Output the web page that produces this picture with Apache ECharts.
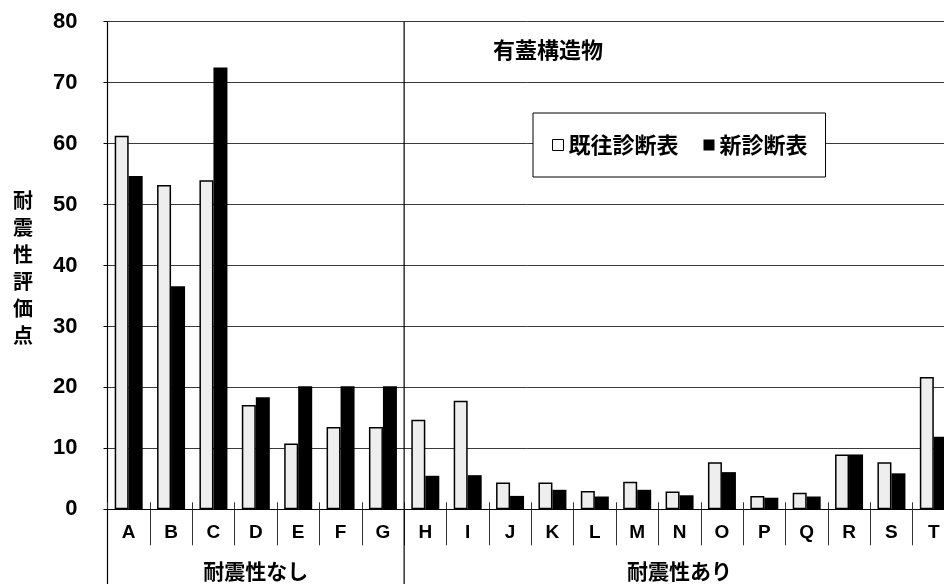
<!DOCTYPE html>
<html>
<head>
<meta charset="utf-8">
<script src="https://cdn.jsdelivr.net/npm/echarts@6/dist/echarts.min.js"></script>
<style>
  html, body { margin: 0; padding: 0; background: #fff; }
  #main { width: 944px; height: 584px; }
</style>
</head>
<body>
<div id="main"></div>
<script>
// ---- data ----
const categories = ['A','B','C','D','E','F','G','H','I','J','K','L','M','N','O','P','Q','R','S','T'];
const oldScores = [61.3, 53.2, 54.0, 17.1, 10.8, 13.5, 13.5, 14.7, 17.8, 4.4, 4.4, 3.0, 4.5, 2.9, 7.7, 2.2, 2.7, 9.0, 7.7, 21.7];
const newScores = [54.7, 36.6, 72.5, 18.4, 20.2, 20.2, 20.2, 5.5, 5.6, 2.2, 3.2, 2.1, 3.2, 2.3, 6.1, 1.9, 2.1, 9.0, 5.9, 11.9];
const seriesNames = ['既往診断表', '新診断表'];
const groupNames = ['耐震性なし', '耐震性あり'];
const groupFirst = ['A', 'H'];
const groupLast = ['G', 'T'];
const yMin = 0, yMax = 80, yInterval = 10;
const yAxisName = '耐震性評価点';
const chartTitle = '有蓋構造物';

const JP = '"Noto Sans CJK JP", "Noto Sans CJK SC", sans-serif';
const LAT = '"Liberation Sans", Arial, sans-serif';

const chart = echarts.init(document.getElementById('main'), null, { renderer: 'canvas' });

const option = {
  animation: false,
  backgroundColor: '#fff',
  grid: { left: 107.5, right: -11, top: 21.7, bottom: 74.7, containLabel: false, outerBoundsMode: 'none' },
  legend: {
    left: 533, top: 113,
    padding: [21, 18, 21, 19],
    itemGap: 25,
    itemWidth: 11, itemHeight: 11,
    borderColor: '#000', borderWidth: 1,
    backgroundColor: '#fff',
    textStyle: { fontFamily: JP, fontWeight: 'bold', fontSize: 22, color: '#000' },
    data: [
      { name: seriesNames[0], icon: 'rect', itemStyle: { color: '#fff', borderColor: '#000', borderWidth: 1 } },
      { name: seriesNames[1], icon: 'rect', itemStyle: { color: '#000', borderWidth: 0 } }
    ]
  },
  xAxis: [
    {
      type: 'category', data: categories, position: 'bottom',
      axisLine: { show: true, lineStyle: { color: '#000', width: 1 } },
      axisTick: { show: true, length: 36, lineStyle: { color: '#333', width: 1 } },
      axisLabel: { fontFamily: LAT, fontWeight: 'bold', fontSize: 19, color: '#000', margin: 14, interval: 0 }
    },
    {
      type: 'category', data: categories, position: 'bottom',
      axisLine: { show: false },
      axisTick: { show: true, inside: true, length: 7, lineStyle: { color: '#333', width: 1 } },
      axisLabel: { show: false }
    }
  ],
  yAxis: {
    type: 'value', min: yMin, max: yMax, interval: yInterval,
    axisLine: { show: true, lineStyle: { color: '#000', width: 1.2 } },
    axisTick: { show: true, length: 4, lineStyle: { color: '#000' } },
    axisLabel: { fontFamily: LAT, fontWeight: 'bold', fontSize: 22, color: '#000', margin: 30 },
    splitLine: { show: true, lineStyle: { color: '#3a3a3a', width: 1 } }
  },
  series: [
    {
      name: seriesNames[0], type: 'bar', data: oldScores,
      barWidth: 14, barGap: '0%',
      itemStyle: { color: '#eeeeee', borderColor: '#000', borderWidth: 1.5 }
    },
    {
      name: seriesNames[1], type: 'bar', data: newScores,
      barWidth: 14, barGap: '0%',
      itemStyle: { color: '#000', borderColor: '#000', borderWidth: 0 }
    }
  ]
};
chart.setOption(option);

// decorations computed from the axes
const px = c => chart.convertToPixel({ xAxisIndex: 0 }, c);
const py = v => chart.convertToPixel({ yAxisIndex: 0 }, v);
const bw = px(categories[1]) - px(categories[0]);
const yTop = py(yMax), yZero = py(yMin);
const H = 584;

const graphics = [];
const xLeft = px(categories[0]) - bw / 2;
graphics.push({ type: 'line', shape: { x1: xLeft, y1: yZero, x2: xLeft, y2: H }, style: { stroke: '#000', lineWidth: 1.2 }, z: 10 });
for (let g = 0; g < groupNames.length; g++) {
  const x0 = px(groupFirst[g]) - bw / 2;
  const x1 = px(groupLast[g]) + bw / 2;
  if (g > 0) {
    graphics.push({ type: 'line', shape: { x1: x0, y1: yTop, x2: x0, y2: H }, style: { stroke: '#000', lineWidth: 1.2 }, z: 10 });
  }
  graphics.push({
    type: 'text', x: (x0 + x1) / 2, y: 571, z: 10,
    style: { text: groupNames[g], fontFamily: JP, fontWeight: 'bold', fontSize: 21, fill: '#000', textAlign: 'center', textVerticalAlign: 'middle' }
  });
}
graphics.push({
  type: 'text', x: 23, y: 268, z: 10,
  style: { text: yAxisName.split('').join('\n'), fontFamily: JP, fontWeight: 'bold', fontSize: 20, lineHeight: 27, fill: '#000', textAlign: 'center', textVerticalAlign: 'middle' }
});
graphics.push({
  type: 'text', x: 548, y: 50, z: 10,
  style: { text: chartTitle, fontFamily: JP, fontWeight: 'bold', fontSize: 22, fill: '#000', textAlign: 'center', textVerticalAlign: 'middle' }
});
chart.setOption({ graphic: graphics });
</script>
</body>
</html>
